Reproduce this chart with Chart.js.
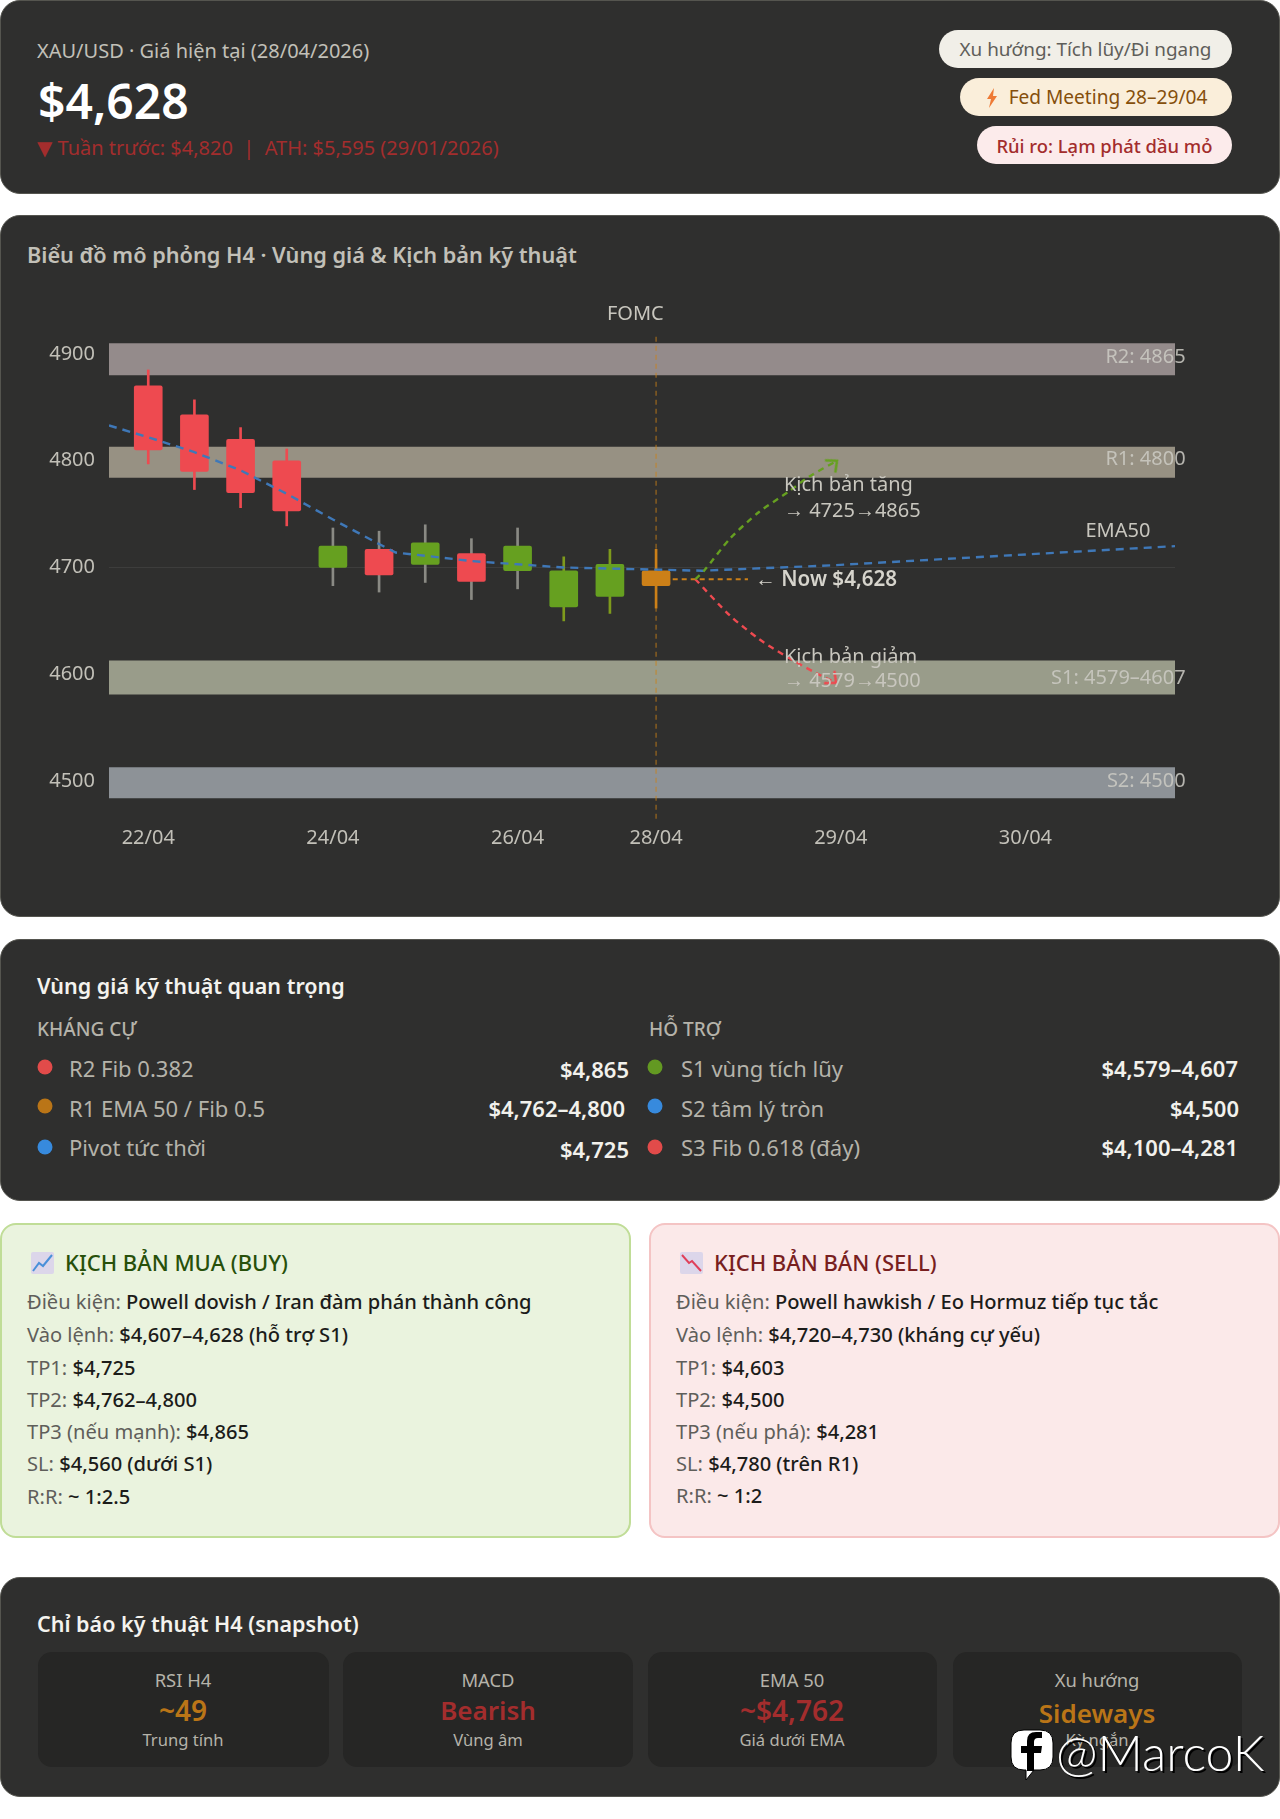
<!DOCTYPE html>
<html lang="vi">
<head>
<meta charset="utf-8">
<title>XAU/USD H4</title>
<script src="https://cdn.jsdelivr.net/npm/chart.js@4/dist/chart.umd.min.js"></script>
<style>
  html, body { margin: 0; padding: 0; background: #fff; }
  body { position: relative; width: 1280px; height: 1819px; overflow: hidden; font-family: "Noto Sans", sans-serif; color: #c2c0b8; }
  .card { position: absolute; left: 0; width: 1278px; background: #2f2f2e; border: 1px solid #55554f; border-radius: 20px; }
  .t { position: absolute; line-height: 1; white-space: nowrap; transform: translateY(-50%); }
  .r { transform: translate(-100%, -50%); }
  .c { transform: translate(-50%, -50%); }
  .pill { position: absolute; box-sizing: border-box; height: 38px; line-height: 39px; border-radius: 19px; text-align: center; white-space: nowrap; }
  .dot { position: absolute; width: 15px; height: 15px; border-radius: 50%; transform: translate(-50%, -50%); }
  .b { color: #f2f1ec; font-weight: 600; font-size: 22px; }
  .row { font-size: 22px; color: #b5b3aa; }
  .plan { position: absolute; box-sizing: border-box; top: 1223px; height: 315px; border-radius: 16px; border: 2px solid; }
  .ln { font-size: 20.1px; }
  .ln b { font-weight: 500; color: #1c1c1a; }
  .tile { position: absolute; top: 1652px; height: 115px; background: #262625; border-radius: 14px; }
  .lab { font-size: 18.4px; color: #b5b3aa; }
  .sub { font-size: 16.6px; color: #b5b3aa; }
  .val { font-size: 26px; font-weight: 600; }
  canvas { position: absolute; left: 0; top: 290px; }
</style>
</head>
<body>

<div class="card" style="top:0;height:192px"></div>
<div class="t" style="left:37px;top:51px;font-size:20px;color:#c2c0b8">XAU/USD · Giá hiện tại (28/04/2026)</div>
<div class="t" style="left:38px;top:101px;font-size:48px;font-weight:600;color:#fff">$4,628</div>
<div class="t" style="left:37px;top:148px;font-size:20px;color:#a32d2d"><span style="font-family:'DejaVu Sans'">▼</span> Tuần trước: $4,820 &nbsp;|&nbsp; ATH: $5,595 (29/01/2026)</div>
<div class="pill" style="left:939px;top:30px;width:293px;font-size:18.9px;background:#f1efe8;color:#5f5e5a">Xu hướng: Tích lũy/Đi ngang</div>
<div class="pill" style="left:960px;top:78px;width:272px;font-size:19.1px;background:#faeeda;color:#854f0b"><svg width="14" height="20" viewBox="0 0 14 20" style="vertical-align:-4px;margin-right:10px"><path d="M9 0 L2 11 H6 L4 20 L12 8 H8 Z" fill="#ee7a35"/></svg>Fed Meeting 28–29/04</div>
<div class="pill" style="left:977px;top:126px;width:255px;font-size:18.4px;font-weight:500;background:#fcebeb;color:#a32d2d">Rủi ro: Lạm phát dầu mỏ</div>

<div class="card" style="top:215px;height:700px"></div>
<div class="t" style="left:27px;top:255px;font-size:21.7px;font-weight:600;color:#c2c0b8">Biểu đồ mô phỏng H4 · Vùng giá &amp; Kịch bản kỹ thuật</div>
<canvas id="h4Chart" width="1280" height="590"></canvas>

<div class="card" style="top:939px;height:260px"></div>
<div class="t" style="left:37px;top:986px;font-size:21.5px;font-weight:600;color:#f4f3ee">Vùng giá kỹ thuật quan trọng</div>
<div class="t" style="left:37px;top:1029px;font-size:19px;font-weight:500;color:#b5b3aa">KHÁNG CỰ</div>
<div class="t" style="left:649px;top:1029px;font-size:19px;font-weight:500;color:#b5b3aa">HỖ TRỢ</div>
<span class="dot" style="left:45px;top:1067px;background:#e24b4a"></span>
<div class="t row" style="left:69px;top:1068px">R2 Fib 0.382</div>
<div class="t r b" style="left:629px;top:1069px">$4,865</div>
<span class="dot" style="left:45px;top:1106px;background:#ba7517"></span>
<div class="t row" style="left:69px;top:1108px">R1 EMA 50 / Fib 0.5</div>
<div class="t r b" style="left:625px;top:1108px">$4,762–4,800</div>
<span class="dot" style="left:45px;top:1147px;background:#378add"></span>
<div class="t row" style="left:69px;top:1147px">Pivot tức thời</div>
<div class="t r b" style="left:629px;top:1149px">$4,725</div>
<span class="dot" style="left:655px;top:1067px;background:#639922"></span>
<div class="t row" style="left:681px;top:1068px">S1 vùng tích lũy</div>
<div class="t r b" style="left:1238px;top:1068px">$4,579–4,607</div>
<span class="dot" style="left:655px;top:1106px;background:#378add"></span>
<div class="t row" style="left:681px;top:1108px">S2 tâm lý tròn</div>
<div class="t r b" style="left:1239px;top:1108px">$4,500</div>
<span class="dot" style="left:655px;top:1147px;background:#e24b4a"></span>
<div class="t row" style="left:681px;top:1147px">S3 Fib 0.618 (đáy)</div>
<div class="t r b" style="left:1238px;top:1147px">$4,100–4,281</div>

<div class="plan" style="left:0;width:631px;background:#eaf3de;border-color:#c0dd97"></div>
<svg style="position:absolute;left:31px;top:1252px" width="23" height="22" viewBox="0 0 23 22"><rect width="23" height="22" rx="2" fill="#dcd6ea"/><path d="M2 19 L8 11 L12 14 L21 3" fill="none" stroke="#4a90d9" stroke-width="2"/></svg>
<div class="t" style="left:65px;top:1262px;font-size:22px;font-weight:500;color:#27500a">KỊCH BẢN MUA (BUY)</div>
<div style="color:#5f5e5a">
  <div class="t ln" style="left:27px;top:1302px">Điều kiện: <b>Powell dovish / Iran đàm phán thành công</b></div>
  <div class="t ln" style="left:27px;top:1335px">Vào lệnh: <b>$4,607–4,628 (hỗ trợ S1)</b></div>
  <div class="t ln" style="left:27px;top:1368px">TP1: <b>$4,725</b></div>
  <div class="t ln" style="left:27px;top:1400px">TP2: <b>$4,762–4,800</b></div>
  <div class="t ln" style="left:27px;top:1432px">TP3 (nếu mạnh): <b>$4,865</b></div>
  <div class="t ln" style="left:27px;top:1464px">SL: <b>$4,560 (dưới S1)</b></div>
  <div class="t ln" style="left:27px;top:1497px">R:R: <b>~ 1:2.5</b></div>
</div>

<div class="plan" style="left:649px;width:631px;background:#fbe9e9;border-color:#f4c4c4"></div>
<svg style="position:absolute;left:680px;top:1252px" width="23" height="22" viewBox="0 0 23 22"><rect width="23" height="22" rx="2" fill="#dcd6ea"/><path d="M2 3 L9 11 L12 9 L21 19" fill="none" stroke="#e0405a" stroke-width="2"/></svg>
<div class="t" style="left:714px;top:1262px;font-size:22px;font-weight:500;color:#791f1f">KỊCH BẢN BÁN (SELL)</div>
<div style="color:#5f5e5a">
  <div class="t ln" style="left:676px;top:1302px">Điều kiện: <b>Powell hawkish / Eo Hormuz tiếp tục tắc</b></div>
  <div class="t ln" style="left:676px;top:1335px">Vào lệnh: <b>$4,720–4,730 (kháng cự yếu)</b></div>
  <div class="t ln" style="left:676px;top:1368px">TP1: <b>$4,603</b></div>
  <div class="t ln" style="left:676px;top:1400px">TP2: <b>$4,500</b></div>
  <div class="t ln" style="left:676px;top:1432px">TP3 (nếu phá): <b>$4,281</b></div>
  <div class="t ln" style="left:676px;top:1464px">SL: <b>$4,780 (trên R1)</b></div>
  <div class="t ln" style="left:676px;top:1496px">R:R: <b>~ 1:2</b></div>
</div>

<div class="card" style="top:1577px;height:218px"></div>
<div class="t" style="left:37px;top:1624px;font-size:21.5px;font-weight:600;color:#f4f3ee">Chỉ báo kỹ thuật H4 (snapshot)</div>
<div class="tile" style="left:38px;width:291px"></div>
<div class="tile" style="left:343px;width:290px"></div>
<div class="tile" style="left:648px;width:289px"></div>
<div class="tile" style="left:953px;width:289px"></div>
<div class="t c lab" style="left:183px;top:1680px">RSI H4</div>
<div class="t c val" style="left:183px;top:1710px;font-size:28px;color:#ba7517">~49</div>
<div class="t c sub" style="left:183px;top:1740px">Trung tính</div>
<div class="t c lab" style="left:488px;top:1680px">MACD</div>
<div class="t c val" style="left:488px;top:1710px;color:#a32d2d">Bearish</div>
<div class="t c sub" style="left:488px;top:1740px">Vùng âm</div>
<div class="t c lab" style="left:792px;top:1680px">EMA 50</div>
<div class="t c val" style="left:792px;top:1710px;font-size:28px;color:#a32d2d">~$4,762</div>
<div class="t c sub" style="left:792px;top:1740px">Giá dưới EMA</div>
<div class="t c lab" style="left:1097px;top:1680px">Xu hướng</div>
<div class="t c val" style="left:1097px;top:1713px;color:#ba7517">Sideways</div>
<div class="t c sub" style="left:1097px;top:1740px">Kỳ ngắn</div>

<svg style="position:absolute;left:1010px;top:1729px" width="44" height="52" viewBox="0 0 44 52"><path d="M14 1 H30 Q43 1 43 14 V28 Q43 41 30 41 H24 L16 51 V41 H14 Q1 41 1 28 V14 Q1 1 14 1 Z" fill="#fff" stroke="#000" stroke-width="1"/><path d="M24 42 V24 H31 L32 17 H24 V13 Q24 9 28 9 H32 V3 H26 Q17 3 17 12 V17 H11 V24 H17 V42 Z" fill="#000"/></svg>
<div class="t" style="left:1056px;top:1752px;font-size:50px;color:#fff;font-family:'Lato';font-weight:300;text-shadow:2px 2px 0 #000">@MarcoK</div>

<script>
// H4 candles (22/04 -> 28/04)
const candleX = [0, 1, 2, 3, 4, 5, 6, 7, 8, 9, 10, 11];
const candleLow = [4810, 4790, 4770, 4753, 4700, 4693, 4703, 4687, 4697, 4663, 4673, 4683];
const candleHigh = [4870, 4843, 4820, 4800, 4720, 4717, 4723, 4713, 4720, 4697, 4703, 4697];
const wickLow = [4797, 4773, 4756, 4739, 4683, 4677, 4686, 4670, 4680, 4650, 4657, 4662];
const wickHigh = [4885, 4857, 4831, 4811, 4737, 4734, 4740, 4727, 4737, 4710, 4717, 4717];
const candleColors = ['#ee4a50', '#ee4a50', '#ee4a50', '#ee4a50', '#66a020', '#ee4a50', '#66a020', '#ee4a50', '#66a020', '#66a020', '#66a020', '#cc8018'];
const wickColors = ['#ee4a50', '#ee4a50', '#ee4a50', '#ee4a50', '#8a8a84', '#8a8a84', '#8a8a84', '#8a8a84', '#8a8a84', '#7e9a1c', '#7e9a1c', '#cc8018'];

// EMA50
const emaX = [-0.85, 0, 1, 2, 3, 4, 5, 5.36, 6, 7, 8, 9, 10, 11, 12, 14.8, 18.5, 22.24];
const emaY = [4833, 4822, 4808, 4791, 4769, 4745, 4722, 4714, 4711, 4706, 4703, 4700, 4699, 4698, 4697, 4702, 4711, 4720];

// scenarios
const upX = [11.85, 12.04, 12.6, 13.23, 13.87, 14.31, 14.92];
const upY = [4689, 4697, 4727, 4752, 4771, 4785, 4800];
const downX = [11.85, 12.6, 13.23, 13.77, 14.47, 14.9];
const downY = [4689, 4655, 4633, 4618, 4601, 4592];
const nowX = [11.36, 12.99];
const nowY = [4689, 4689];
const fomcX = [11, 11];
const fomcY = [4916, 4463];

// price zones
const zoneLow = [4880, 4784, 4581, 4484];
const zoneHigh = [4910, 4813, 4613, 4513];
const zoneColors = ['#948b8b', '#979183', '#999c8a', '#8d9297'];

const yTicks = [4500, 4600, 4700, 4800, 4900];
const xTicks = [0, 4, 8, 11, 15, 19];
const xLabels = ['22/04', '24/04', '26/04', '28/04', '29/04', '30/04'];
const xMin = -0.85;
const xMax = 22.24;

// labels inside the plot, placed in data units
const plotLabels = [
  { text: 'FOMC', x: 10.55, y: 4937, align: 'center' },
  { text: 'Kịch bản tăng', x: 13.77, y: 4777, align: 'left' },
  { text: '→ 4725→4865', x: 13.77, y: 4753, align: 'left' },
  { text: 'EMA50', x: 20.3, y: 4733.7, align: 'left' },
  { text: '← Now $4,628', x: 13.15, y: 4688.6, align: 'left', bold: true },
  { text: 'Kịch bản giảm', x: 13.77, y: 4616.3, align: 'left' },
  { text: '→ 4579→4500', x: 13.77, y: 4593.5, align: 'left' },
  { text: 'R2: 4865', x: 22.47, y: 4896.7, align: 'right', faint: true },
  { text: 'R1: 4800', x: 22.47, y: 4801, align: 'right', faint: true },
  { text: 'S1: 4579–4607', x: 22.47, y: 4596.7, align: 'right', faint: true },
  { text: 'S2: 4500', x: 22.47, y: 4500, align: 'right', faint: true }
];

const pairs = (xs, ys) => xs.map((x, i) => ({ x, y: ys[i] }));

const arrowHead = (color) => {
  const c = document.createElement('canvas');
  c.width = 26;
  c.height = 26;
  const g = c.getContext('2d');
  g.strokeStyle = color;
  g.lineWidth = 2.4;
  g.beginPath();
  g.moveTo(4, 5);
  g.lineTo(13, 13);
  g.lineTo(4, 21);
  g.stroke();
  return c;
};

const scenario = (xs, ys, color, angle) => ({
  type: 'line',
  data: pairs(xs, ys),
  borderColor: color,
  borderWidth: 2.4,
  borderDash: [6, 5],
  tension: 0.25,
  order: 1,
  pointRadius: (ctx) => (ctx.dataIndex === xs.length - 1 ? 8 : 0),
  pointStyle: arrowHead(color),
  pointRotation: angle
});

const labelPlugin = {
  id: 'plotLabels',
  afterDatasetsDraw(chart) {
    const g = chart.ctx;
    const xs = chart.scales.x;
    const ys = chart.scales.y;
    g.save();
    g.textBaseline = 'middle';
    plotLabels.forEach((l) => {
      g.font = (l.bold ? '600 20.6px' : '20px') + ' "Noto Sans"';
      g.fillStyle = l.faint ? 'rgba(205,203,196,0.85)' : (l.bold ? '#d6d4cc' : '#c8c6be');
      g.textAlign = l.align;
      g.fillText(l.text, xs.getPixelForValue(l.x), ys.getPixelForValue(l.y));
    });
    g.restore();
  }
};

const datasets = [];

zoneHigh.forEach((high, i) => {
  datasets.push({
    type: 'line',
    data: pairs([xMin, xMax], [high, high]),
    borderWidth: 0,
    pointRadius: 0,
    fill: { target: { value: zoneLow[i] }, above: zoneColors[i], below: zoneColors[i] },
    order: 10
  });
});

datasets.push({
  type: 'line',
  data: pairs(fomcX, fomcY),
  borderColor: 'rgba(204,128,24,0.6)',
  borderWidth: 1.4,
  borderDash: [5, 4],
  pointRadius: 0,
  order: 9
});

datasets.push({
  type: 'bar',
  data: candleX.map((x, i) => ({ x, y: [wickLow[i], wickHigh[i]] })),
  backgroundColor: wickColors,
  barThickness: 2,
  grouped: false,
  order: 5
});

datasets.push({
  type: 'bar',
  data: candleX.map((x, i) => ({ x, y: [candleLow[i], candleHigh[i]] })),
  backgroundColor: candleColors,
  barThickness: 28,
  borderRadius: 2,
  borderSkipped: false,
  grouped: false,
  order: 4
});

datasets.push({
  type: 'line',
  data: pairs(emaX, emaY),
  borderColor: '#3f78b8',
  borderWidth: 2.4,
  borderDash: [8, 6],
  pointRadius: 0,
  order: 2
});

datasets.push({
  type: 'line',
  data: pairs(nowX, nowY),
  borderColor: '#cc8018',
  borderWidth: 1.8,
  borderDash: [5, 4],
  pointRadius: 0,
  order: 2
});

datasets.push(scenario(upX, upY, '#66a020', -40));
datasets.push(scenario(downX, downY, '#ee4a50', 40));

new Chart(document.getElementById('h4Chart').getContext('2d'), {
  type: 'bar',
  data: { datasets },
  plugins: [labelPlugin],
  options: {
    responsive: false,
    animation: false,
    layout: { padding: { top: 10, right: 105, left: 0, bottom: 0 } },
    plugins: { legend: { display: false }, tooltip: { enabled: false } },
    scales: {
      x: {
        type: 'linear',
        offset: false,
        min: xMin,
        max: xMax,
        grid: { display: false, offset: false, drawTicks: false },
        border: { display: false },
        afterBuildTicks: (scale) => { scale.ticks = xTicks.map((value) => ({ value })); },
        afterFit: (scale) => { scale.height = 58; },
        ticks: {
          autoSkip: false,
          maxRotation: 0,
          padding: 4,
          color: '#c2c0b8',
          font: { family: 'Noto Sans', size: 20 },
          callback: (v) => xLabels[xTicks.indexOf(v)]
        }
      },
      y: {
        type: 'linear',
        min: 4461.7,
        max: 4935.5,
        grid: { color: 'rgba(255,255,255,0.07)', drawTicks: false },
        border: { display: false },
        afterBuildTicks: (scale) => { scale.ticks = yTicks.map((value) => ({ value })); },
        afterFit: (scale) => { scale.width = 109; },
        ticks: {
          padding: 14,
          color: '#c2c0b8',
          font: { family: 'Noto Sans', size: 20 },
          callback: (v) => String(v)
        }
      }
    }
  }
});
</script>
</body>
</html>
